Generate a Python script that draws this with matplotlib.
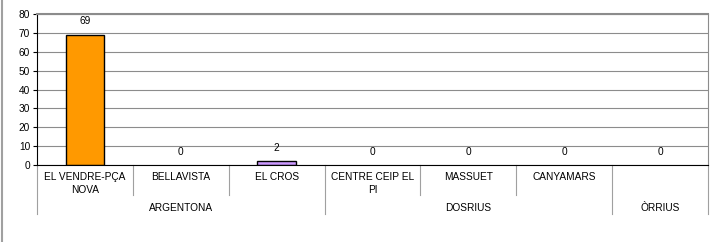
import matplotlib.pyplot as plt
from matplotlib.lines import Line2D
from matplotlib.transforms import blended_transform_factory

plt.rcParams['font.family'] = ['Liberation Sans', 'DejaVu Sans']

categories = ["EL VENDRE-PÇA\nNOVA", "BELLAVISTA", "EL CROS", "CENTRE CEIP EL\nPI",
              "MASSUET", "CANYAMARS", ""]
values = [69, 0, 2, 0, 0, 0, 0]
colors = ["#FF9900", "#FF9900", "#CC99FF", "#CC99FF", "#CC99FF", "#CC99FF", "#CC99FF"]
groups = ["ARGENTONA", "DOSRIUS", "ÒRRIUS"]
group_spans = [(0, 2), (3, 5), (6, 6)]

FS = 7.3
W, H = 711, 242
fig = plt.figure(figsize=(W / 100, H / 100), dpi=100)
left, right, top, bottom = 37, 708, 14, 165
ax = fig.add_axes([left / W, 1 - bottom / H, (right - left) / W, (bottom - top) / H])
ax_h = bottom - top

x = list(range(len(categories)))
edge_w = [1 if v > 0 else 0 for v in values]
ax.bar(x, values, width=0.4, color=colors, edgecolor="black", linewidth=edge_w, zorder=3)
for xi, v in zip(x, values):
    ax.annotate(str(v), (xi, v), xytext=(0, 6), textcoords="offset points",
                ha="center", va="bottom", fontsize=FS)

ax.set_xlim(-0.5, len(categories) - 0.5)
ax.set_ylim(0, 80)
ax.set_yticks(range(0, 81, 10))
ax.set_xticks([])
ax.tick_params(axis="y", labelsize=FS, length=3, width=0.8, pad=2)
ax.grid(axis="y", color="#8c8c8c", linewidth=0.8, zorder=0)
ax.spines["left"].set_color("black")
ax.spines["bottom"].set_color("black")
ax.spines["bottom"].set_zorder(4)
ax.spines["top"].set_color("#8c8c8c")
ax.spines["top"].set_linewidth(1.5)
ax.spines["right"].set_color("#8c8c8c")

trans = blended_transform_factory(ax.transData, ax.transAxes)


def fy(px):
    return -(px - bottom) / ax_h


for xi, lab in zip(x, categories):
    ax.text(xi, fy(172), lab, transform=trans, ha="center", va="top",
            fontsize=FS, linespacing=1.35)

# separator lines under axis
group_edges = {-0.5} | {e + 0.5 for _, e in group_spans}
for i in range(len(categories) + 1):
    xe = i - 0.5
    y_end = 214 if xe in group_edges else 195
    ax.plot([xe, xe], [0, fy(y_end)], transform=trans, color="#a0a0a0",
            linewidth=0.8, clip_on=False)

for g, (s, e) in zip(groups, group_spans):
    ax.text((s + e) / 2, fy(203), g, transform=trans, ha="center", va="top",
            fontsize=FS)

fig.add_artist(Line2D([2 / W, 2 / W], [0, 1], color="#a0a0a0", linewidth=1.5,
                      transform=fig.transFigure))

plt.savefig("out.png", dpi=100)
